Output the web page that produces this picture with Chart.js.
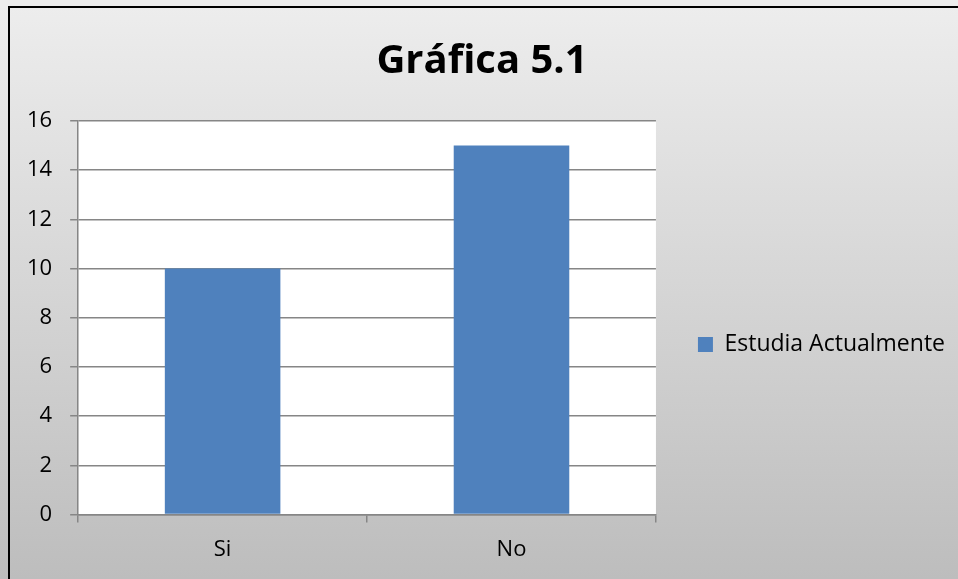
<!DOCTYPE html>
<html>
<head>
<meta charset="utf-8">
<script src="https://cdn.jsdelivr.net/npm/chart.js@4"></script>
<style>
    html, body { margin: 0; padding: 0; background: #ffffff; }
    canvas { display: block; }
</style>
</head>
<body>
<canvas id="grafica" width="958" height="579"></canvas>
<script>
const categorias = ["Si", "No"];
const estudiaActualmente = [10, 15];
const titulo = "Gráfica 5.1";
const nombreSerie = "Estudia Actualmente";

const fuente = "'Open Sans', 'Noto Sans', sans-serif";

// fondo gris degradado, marco negro y area blanca del grafico
const fondo = {
    id: "fondo",
    afterLayout(chart) {
        // la leyenda va un poco mas abajo que el centro
        chart.legend.top += 37;
        chart.legend.bottom += 37;
    },
    beforeDraw(chart) {
        const ctx = chart.ctx;
        const area = chart.chartArea;
        ctx.save();
        const grad = ctx.createLinearGradient(0, 7, 0, chart.height);
        grad.addColorStop(0, "#ededed");
        grad.addColorStop(1, "#bdbdbd");
        ctx.fillStyle = grad;
        ctx.fillRect(0, 0, chart.width, chart.height);
        ctx.strokeStyle = "#000000";
        ctx.lineWidth = 2;
        ctx.beginPath();
        ctx.moveTo(9, chart.height);
        ctx.lineTo(9, 7);
        ctx.lineTo(chart.width, 7);
        ctx.stroke();
        ctx.fillStyle = "#ffffff";
        ctx.fillRect(area.left, area.top, area.right - area.left, area.bottom - area.top);
        ctx.restore();
    }
};

const grafico = new Chart(document.getElementById("grafica"), {
    type: "bar",
    data: {
        labels: categorias,
        datasets: [{
            label: nombreSerie,
            data: estudiaActualmente,
            backgroundColor: "#4f81bd",
            borderWidth: 0,
            categoryPercentage: 1,
            barPercentage: 0.4
        }]
    },
    options: {
        responsive: false,
        animation: false,
        devicePixelRatio: 1,
        layout: {
            padding: { left: 9, right: 3, top: 38, bottom: 2 }
        },
        plugins: {
            title: {
                display: true,
                text: titulo,
                color: "#000000",
                font: { family: fuente, size: 40, weight: "bold" },
                padding: { top: 0, bottom: 35 }
            },
            legend: {
                position: "right",
                maxWidth: 320,
                labels: {
                    color: "#000000",
                    font: { family: fuente, size: 23 },
                    boxWidth: 15,
                    boxHeight: 15,
                    padding: 42
                }
            },
            tooltip: { enabled: false }
        },
        scales: {
            x: {
                grid: {
                    offset: true,
                    drawOnChartArea: false,
                    drawTicks: true,
                    tickLength: 8,
                    color: "#868686",
                    lineWidth: 1.5
                },
                border: { color: "#868686", width: 1.5 },
                ticks: {
                    color: "#000000",
                    font: { family: fuente, size: 22 },
                    padding: 14
                }
            },
            y: {
                min: 0,
                max: 16,
                grid: {
                    color: "#868686",
                    lineWidth: 1.5,
                    tickLength: 8
                },
                border: { color: "#868686", width: 1.5 },
                ticks: {
                    stepSize: 2,
                    color: "#000000",
                    font: { family: fuente, size: 22 },
                    padding: 18
                }
            }
        }
    },
    plugins: [fondo]
});
</script>
</body>
</html>
